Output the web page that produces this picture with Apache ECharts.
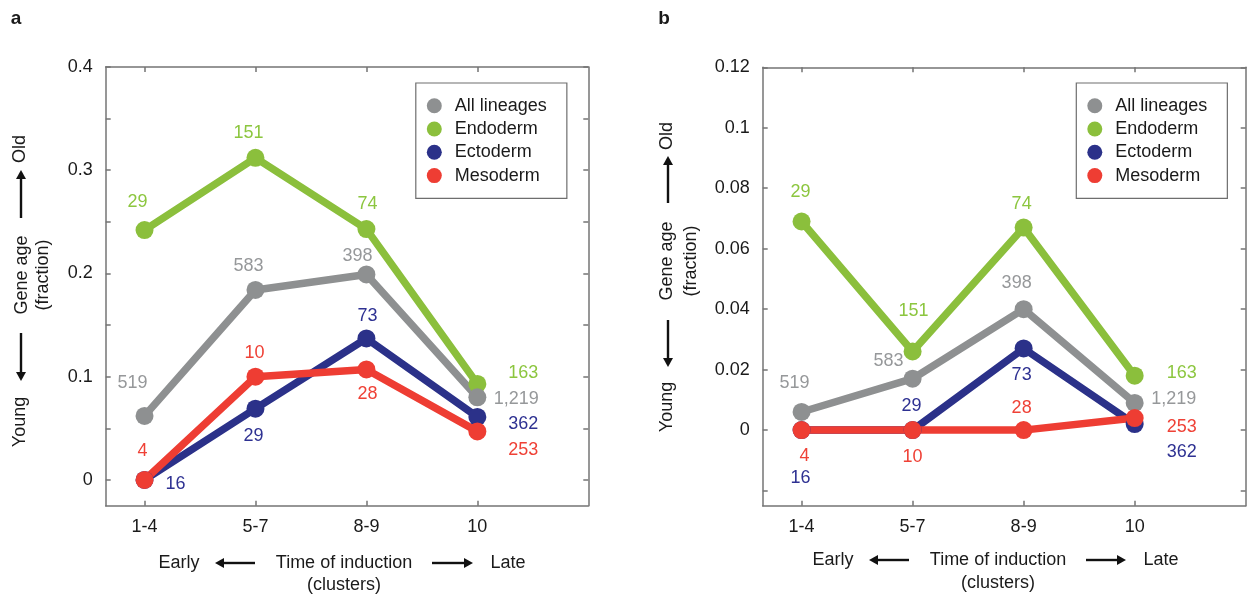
<!DOCTYPE html>
<html>
<head>
<meta charset="utf-8">
<script src="https://cdn.jsdelivr.net/npm/echarts@6/dist/echarts.min.js"></script>
<style>
html,body{margin:0;padding:0;background:#fff;}
#chart{width:1254px;height:598px;}
</style>
</head>
<body>
<div id="chart"></div>
<script>
// ---------------- data ----------------
const categories = ['1-4', '5-7', '8-9', '10'];
const seriesNames = ['All lineages', 'Endoderm', 'Ectoderm', 'Mesoderm'];

// panel a (gene age fraction)
const allA  = [0.062, 0.184, 0.199, 0.080];
const endoA = [0.242, 0.312, 0.243, 0.093];
const ectoA = [0.000, 0.069, 0.137, 0.061];
const mesoA = [0.000, 0.100, 0.107, 0.047];

// panel b (gene age fraction)
const allB  = [0.006, 0.017, 0.040, 0.009];
const endoB = [0.069, 0.026, 0.067, 0.018];
const ectoB = [0.000, 0.000, 0.027, 0.002];
const mesoB = [0.000, 0.000, 0.000, 0.004];

// gene counts shown next to points
const allN  = ['519', '583', '398', '1,219'];
const endoN = ['29', '151', '74', '163'];
const ectoN = ['16', '29', '73', '362'];
const mesoN = ['4', '10', '28', '253'];

// tick labels
const yLabelsA = [0, 0.1, 0.2, 0.3, 0.4];
const yTicksA  = [0, 0.05, 0.1, 0.15, 0.2, 0.25, 0.3, 0.35, 0.4];
const yLabelsB = [0, 0.02, 0.04, 0.06, 0.08, 0.1, 0.12];
const yTicksB  = [-0.02, 0, 0.02, 0.04, 0.06, 0.08, 0.1, 0.12];

// ---------------- layout / style ----------------
const FONT = "'Liberation Sans', Arial, Helvetica, sans-serif";
const lineColors  = {'All lineages': '#8e9091', 'Endoderm': '#8bbf3c', 'Ectoderm': '#2b3189', 'Mesoderm': '#ee3d33'};
const labelColors = {'All lineages': '#96989a', 'Endoderm': '#8cc63f', 'Ectoderm': '#2e3192', 'Mesoderm': '#ef4136'};

// label offsets (pixels) relative to each point, per panel/series
const offsetsA = {
  'All lineages': [[-12, -33], [-7, -24], [-9, -18], [39, 2]],
  'Endoderm':     [[-7, -28], [-7, -25], [1, -25], [46, -11]],
  'Ectoderm':     [[31, 4], [-2, 27], [1, -22], [46, 7]],
  'Mesoderm':     [[-2, -29], [-1, -24], [1, 25], [46, 19]]
};
const offsetsB = {
  'All lineages': [[-7, -29], [-24, -18], [-7, -26], [39, -4]],
  'Endoderm':     [[-1, -29], [1, -40], [-2, -24], [47, -3]],
  'Ectoderm':     [[-1, 48], [-1, -24], [-2, 27], [47, 28]],
  'Mesoderm':     [[3, 26], [0, 27], [-2, -22], [47, 9]]
};

const AXIS_COLOR = '#747474';
const catIdx = categories.map((c, i) => i);

function xAxes(grid) {
  const base = {
    gridIndex: grid, type: 'value', min: -0.35, max: 4,
    splitLine: {show: false},
    axisLine: {show: true, onZero: false, lineStyle: {color: AXIS_COLOR, width: 1.5}},
    axisTick: {show: true, inside: true, length: 5, customValues: catIdx, lineStyle: {color: AXIS_COLOR, width: 1.5}}
  };
  return [
    Object.assign({}, base, {
      position: 'bottom',
      axisLabel: {show: true, customValues: catIdx, formatter: v => categories[Math.round(v)],
        margin: 12, fontSize: 18, color: '#1a1a1a', fontFamily: FONT}
    }),
    Object.assign({}, base, {position: 'top', axisLabel: {show: false}})
  ];
}
function yAxes(grid, min, max, ticks, labels) {
  const base = {
    gridIndex: grid, type: 'value', min: min, max: max,
    splitLine: {show: false},
    axisLine: {show: true, onZero: false, lineStyle: {color: AXIS_COLOR, width: 1.5}},
    axisTick: {show: true, inside: true, length: 5, customValues: ticks, lineStyle: {color: AXIS_COLOR, width: 1.5}}
  };
  return [
    Object.assign({}, base, {
      position: 'left',
      axisLabel: {show: true, customValues: labels, formatter: v => String(+(+v).toFixed(3)),
        margin: 13, fontSize: 18, color: '#1a1a1a', fontFamily: FONT}
    }),
    Object.assign({}, base, {position: 'right', axisLabel: {show: false}})
  ];
}

function makeSeries(name, values, counts, offsets, axisIdx) {
  return {
    name: name, type: 'line', xAxisIndex: axisIdx, yAxisIndex: axisIdx,
    symbol: 'circle', symbolSize: 18, showSymbol: true,
    lineStyle: {width: 7.5, color: lineColors[name]},
    itemStyle: {color: lineColors[name]},
    emphasis: {disabled: true},
    label: {show: true, position: 'inside', fontSize: 18, fontFamily: FONT, color: labelColors[name]},
    data: values.map((v, i) => ({
      value: [i, v],
      label: {formatter: counts[i], offset: offsets[name][i]}
    }))
  };
}

const panelA = {'All lineages': allA, 'Endoderm': endoA, 'Ectoderm': ectoA, 'Mesoderm': mesoA};
const panelB = {'All lineages': allB, 'Endoderm': endoB, 'Ectoderm': ectoB, 'Mesoderm': mesoB};
const countsBy = {'All lineages': allN, 'Endoderm': endoN, 'Ectoderm': ectoN, 'Mesoderm': mesoN};
const drawOrder = ['Endoderm', 'All lineages', 'Ectoderm', 'Mesoderm'];

const series = [];
drawOrder.forEach(n => series.push(makeSeries(n, panelA[n], countsBy[n], offsetsA, 0)));
drawOrder.forEach(n => series.push(makeSeries(n, panelB[n], countsBy[n], offsetsB, 2)));

function legend(left) {
  return {
    data: seriesNames, orient: 'vertical', left: left, top: 83,
    icon: 'circle', itemWidth: 15, itemHeight: 15, itemGap: 5.3,
    padding: [13.7, 20, 13.7, 11],
    borderColor: '#6e6e6e', borderWidth: 1.2, backgroundColor: '#fff',
    selectedMode: false,
    textStyle: {fontSize: 18, fontFamily: FONT, color: '#1a1a1a', lineHeight: 18, padding: [0, 0, 0, 8]}
  };
}

// ---------------- annotations (titles, arrows) ----------------
function txt(x, y, s, opts) {
  return Object.assign({
    type: 'text', x: x, y: y, silent: true,
    style: Object.assign({text: s, fill: '#1a1a1a', font: '18px ' + FONT, align: 'center', verticalAlign: 'middle'}, (opts && opts.style) || {})
  }, opts && opts.rotation ? {rotation: opts.rotation} : {});
}
function vtxt(x, y, s) { return txt(x, y, s, {rotation: Math.PI / 2}); }
function arrow(x1, y1, x2, y2) { // tip at (x2,y2)
  const dx = x2 - x1, dy = y2 - y1, L = Math.hypot(dx, dy), ux = dx / L, uy = dy / L;
  const hl = 9, hw = 5;
  const bx = x2 - ux * hl, by = y2 - uy * hl;
  return [
    {type: 'line', silent: true, shape: {x1: x1, y1: y1, x2: bx, y2: by}, style: {stroke: '#111', lineWidth: 2.4}},
    {type: 'polygon', silent: true, shape: {points: [[x2, y2], [bx - uy * hw, by + ux * hw], [bx + uy * hw, by - ux * hw]]}, style: {fill: '#111'}}
  ];
}

const graphics = [].concat(
  [txt(16, 19, 'a', {style: {font: 'bold 19px ' + FONT}}), txt(664, 19, 'b', {style: {font: 'bold 19px ' + FONT}})],
  // panel a y title
  [vtxt(20, 149, 'Old'), vtxt(22, 275, 'Gene age'), vtxt(43, 275, '(fraction)'), vtxt(20, 422, 'Young')],
  arrow(21, 218, 21, 170), arrow(21, 333, 21, 381),
  // panel b y title
  [vtxt(667, 136, 'Old'), vtxt(667, 261, 'Gene age'), vtxt(691, 261, '(fraction)'), vtxt(667, 407, 'Young')],
  arrow(668, 203, 668, 156), arrow(668, 320, 668, 367),
  // panel a x title
  [txt(179, 563, 'Early'), txt(344, 563, 'Time of induction'), txt(508, 563, 'Late'), txt(344, 585, '(clusters)')],
  arrow(255, 563, 215, 563), arrow(432, 563, 473, 563),
  // panel b x title
  [txt(833, 560, 'Early'), txt(998, 560, 'Time of induction'), txt(1161, 560, 'Late'), txt(998, 583, '(clusters)')],
  arrow(909, 560, 869, 560), arrow(1086, 560, 1126, 560)
);

const option = {
  animation: false,
  backgroundColor: '#fff',
  textStyle: {fontFamily: FONT},
  grid: [
    {left: 105.7, top: 67, width: 482.6, height: 438.7, outerBoundsMode: 'none', containLabel: false},
    {left: 762.7, top: 67.3, width: 483, height: 438.4, outerBoundsMode: 'none', containLabel: false}
  ],
  xAxis: [].concat(xAxes(0), xAxes(1)),
  yAxis: [].concat(yAxes(0, -0.025, 0.4, yTicksA, yLabelsA), yAxes(1, -0.025, 0.12, yTicksB, yLabelsB)),
  legend: [legend(415.8), legend(1076.3)],
  series: series,
  graphic: graphics
};

const chart = echarts.init(document.getElementById('chart'), null, {renderer: 'canvas'});
chart.setOption(option);
</script>
</body>
</html>
